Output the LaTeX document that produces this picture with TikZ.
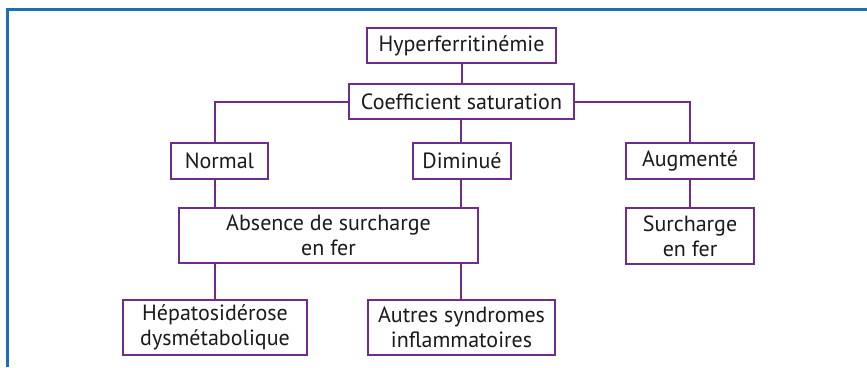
\documentclass[tikz,border=0pt]{standalone}
\usepackage{fontspec}
\setmainfont{PT Sans}
\definecolor{boxviolet}{HTML}{6E2C8C}
\definecolor{framebleu}{HTML}{1B6FB6}
\definecolor{texte}{HTML}{1A1A1A}
\tikzset{
  choix/.style={draw=boxviolet, line width=2pt, fill=white, text=texte, align=center,
    inner sep=0pt, font=\fontsize{22}{25}\selectfont},
  lien/.style={draw=boxviolet, line width=2pt},
}
\begin{document}
\begin{tikzpicture}[x=1pt,y=-1pt]
\useasboundingbox (0,0) rectangle (867,367);
\draw[framebleu, line width=3pt] (7.5,367) -- (7.5,9) -- (867,9);

\coordinate (colA) at (215,0);
\coordinate (colB) at (460.5,0);
\coordinate (colC) at (689.5,0);

\node[choix, minimum width=189pt, minimum height=35pt] (hyper) at (461.5,45.5) {Hyperferritinémie};
\node[choix, minimum width=225pt, minimum height=35pt] (coef) at (461.5,101.5) {Coefficient saturation};
\draw[lien] (hyper) -- (coef);

\node[choix, minimum width=97pt, minimum height=36pt] (normal) at (219.5,161) {Normal};
\node[choix, minimum width=98pt, minimum height=36pt] (diminue) at (462,161) {Diminué};
\node[choix, minimum width=128pt, minimum height=36pt] (augmente) at (690,161) {Augmenté};
\draw[lien] (coef.west) -| (colA |- normal.north);
\draw[lien] (coef.east) -| (colC |- augmente.north);
\draw[lien] (colB |- coef.south) -- (colB |- diminue.north);

\node[choix, minimum width=299pt, minimum height=55pt] (absence) at (328.5,235.5) {Absence de surcharge\\en fer};
\node[choix, minimum width=128pt, minimum height=56pt] (surcharge) at (690,236) {Surcharge\\en fer};
\draw[lien] (colA |- normal.south) -- (colA |- absence.north);
\draw[lien] (colB |- diminue.south) -- (colB |- absence.north);
\draw[lien] (colC |- augmente.south) -- (colC |- surcharge.north);

\node[choix, minimum width=184pt, minimum height=55pt] (hepato) at (215,327.5) {Hépatosidérose\\dysmétabolique};
\node[choix, minimum width=187pt, minimum height=55pt] (autres) at (461.5,327.5) {Autres syndromes\\inflammatoires};
\draw[lien] (colA |- absence.south) -- (colA |- hepato.north);
\draw[lien] (colB |- absence.south) -- (colB |- autres.north);
\end{tikzpicture}
\end{document}
